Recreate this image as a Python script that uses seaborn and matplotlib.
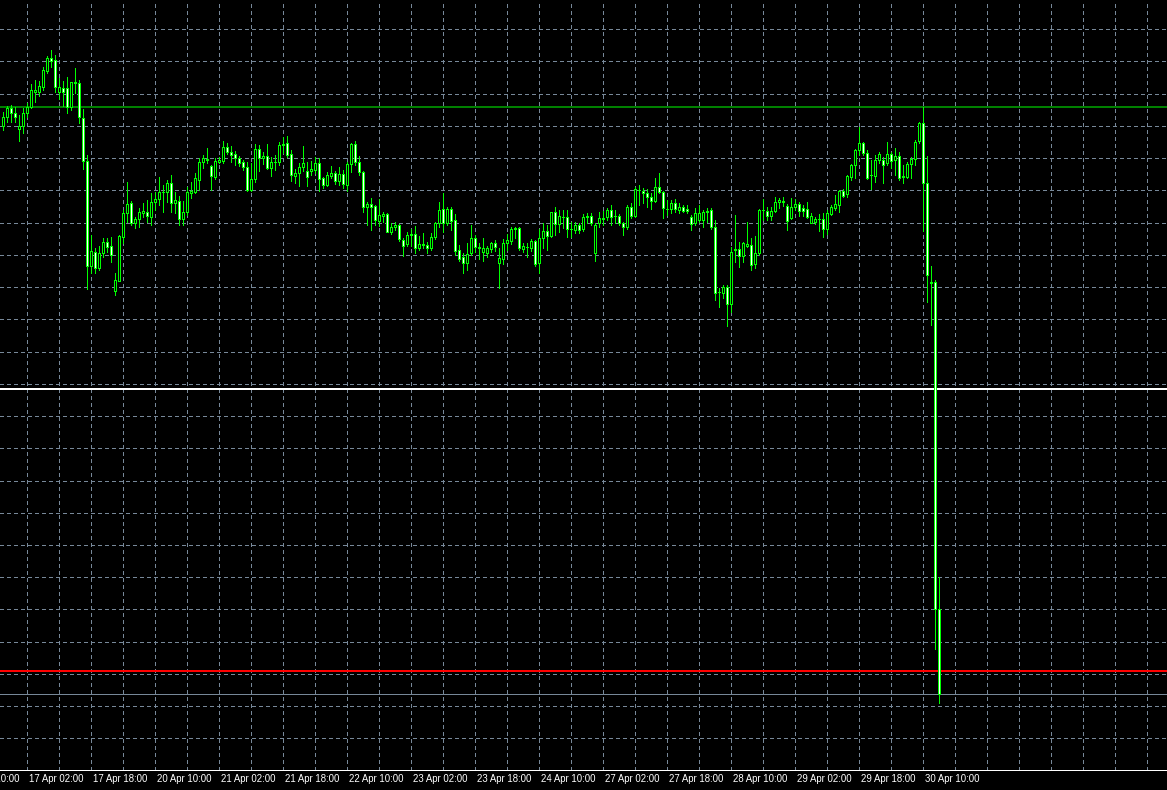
import numpy as np
import pandas as pd
import matplotlib
matplotlib.use("Agg")
import matplotlib.pyplot as plt
from matplotlib.transforms import ScaledTranslation, blended_transform_factory
import seaborn as sns

# ---------------- data (H1 candles) ----------------
open_ = [674.0, 683.3, 691.7, 686.7, 670.7, 674.0, 686.7, 693.3, 708.3, 708.3,
         712.7, 729.3, 741.7, 740.0, 708.3, 711.7, 711.7, 693.3, 717.7, 716.7,
         681.7, 639.3, 534.3, 547.7, 532.3, 546.7, 557.7, 554.0, 509.3, 519.3,
         563.3, 586.7, 596.7, 576.7, 580.7, 587.3, 587.7, 583.3, 597.7, 600.7,
         607.7, 608.3, 617.3, 596.7, 599.3, 580.7, 587.7, 607.3, 608.3, 620.0,
         637.7, 640.7, 634.3, 623.3, 638.3, 639.3, 652.7, 647.7, 645.7, 641.7,
         637.7, 633.3, 610.0, 620.7, 650.7, 641.7, 644.0, 632.3, 637.7, 638.3,
         655.0, 656.7, 646.0, 624.3, 626.7, 632.7, 629.0, 629.3, 630.0, 636.7,
         621.7, 615.0, 624.3, 626.7, 619.3, 626.0, 615.0, 635.7, 656.0, 638.3,
         628.3, 592.7, 595.7, 594.0, 579.3, 584.3, 585.7, 568.3, 572.7, 575.0,
         560.0, 556.0, 565.0, 566.0, 551.7, 554.7, 555.0, 551.7, 562.7, 576.7,
         590.7, 577.3, 590.7, 580.0, 550.0, 543.3, 536.7, 546.7, 561.7, 552.7,
         547.7, 547.3, 550.7, 556.7, 536.7, 540.7, 556.7, 559.3, 570.7, 571.7,
         551.0, 552.7, 552.3, 559.0, 536.7, 562.3, 569.3, 564.0, 587.7, 575.7,
         582.7, 582.7, 570.7, 570.0, 575.0, 570.7, 583.0, 584.0, 546.7, 576.7,
         581.3, 583.3, 590.0, 583.7, 584.0, 577.3, 572.7, 592.7, 584.0, 610.0,
         609.0, 606.7, 602.7, 599.3, 612.7, 607.7, 591.3, 591.0, 596.7, 590.0,
         592.7, 591.0, 582.7, 576.7, 580.0, 580.0, 588.3, 590.0, 572.7, 507.7,
         507.3, 512.7, 495.7, 550.3, 550.7, 544.3, 554.3, 555.0, 536.0, 546.7,
         589.7, 589.0, 584.0, 589.3, 597.7, 599.0, 594.3, 581.7, 593.3, 596.0,
         591.7, 590.7, 577.3, 578.3, 581.0, 580.7, 570.7, 586.0, 592.3, 595.0,
         609.3, 606.0, 623.3, 635.0, 650.0, 656.7, 646.7, 624.7, 624.3, 640.0,
         640.0, 637.3, 645.7, 640.0, 644.3, 623.3, 623.3, 636.0, 640.7, 659.3,
         677.3, 617.5, 518.3, 518.3, 190.7]
high = [688.3, 694.0, 695.0, 693.3, 685.0, 691.7, 696.7, 716.0, 720.0, 719.3,
        732.7, 744.0, 750.0, 745.0, 721.7, 719.3, 723.3, 718.3, 732.0, 720.0,
        691.0, 645.0, 565.0, 551.7, 554.0, 561.7, 561.7, 563.3, 526.7, 565.0,
        590.0, 617.7, 599.0, 583.3, 591.7, 596.7, 600.0, 606.7, 608.3, 623.3,
        615.0, 620.0, 625.0, 608.3, 604.0, 599.0, 613.3, 618.3, 626.7, 641.7,
        645.0, 651.7, 635.0, 641.7, 643.3, 659.0, 657.3, 654.0, 649.3, 644.0,
        640.0, 638.3, 636.7, 656.0, 655.0, 648.3, 656.0, 642.7, 645.0, 658.3,
        663.3, 664.0, 650.0, 630.7, 637.3, 654.0, 638.3, 639.3, 642.7, 641.7,
        623.3, 627.7, 634.0, 629.3, 633.3, 630.0, 638.3, 656.7, 659.3, 644.0,
        629.3, 598.3, 601.7, 595.0, 600.7, 588.3, 586.7, 576.7, 578.3, 575.7,
        561.7, 568.3, 570.7, 574.0, 564.0, 567.3, 558.3, 566.7, 578.3, 598.3,
        606.7, 593.3, 593.3, 586.0, 555.0, 546.7, 556.7, 575.0, 565.0, 557.3,
        561.7, 554.0, 558.3, 560.0, 551.7, 561.0, 566.0, 573.3, 573.3, 572.7,
        556.7, 556.7, 560.7, 560.0, 570.7, 576.7, 575.0, 588.3, 593.3, 590.0,
        590.0, 590.0, 578.3, 578.3, 577.3, 586.0, 587.3, 586.7, 576.7, 588.3,
        589.3, 591.7, 595.0, 590.0, 586.0, 578.3, 595.0, 596.7, 613.3, 615.0,
        611.7, 610.7, 606.7, 621.7, 626.7, 609.3, 600.0, 600.0, 600.7, 596.7,
        595.0, 595.0, 585.0, 591.7, 595.0, 590.0, 591.7, 591.7, 580.0, 511.7,
        515.0, 515.0, 553.3, 585.0, 558.3, 558.3, 578.3, 561.7, 564.0, 591.0,
        600.7, 593.3, 593.3, 602.7, 601.7, 602.7, 595.7, 601.7, 600.7, 598.3,
        595.0, 598.3, 587.3, 583.3, 586.0, 586.7, 590.0, 595.0, 605.0, 610.0,
        610.7, 625.0, 636.0, 650.7, 673.3, 658.3, 650.0, 640.0, 645.0, 648.3,
        643.3, 658.3, 648.3, 651.7, 648.3, 635.0, 638.3, 643.3, 660.0, 678.3,
        693.3, 644.0, 534.0, 520.0, 223.3]
low = [670.0, 678.3, 678.3, 678.3, 659.3, 667.3, 683.3, 691.7, 698.3, 704.0,
       710.0, 726.7, 733.3, 708.3, 700.7, 694.0, 686.7, 690.0, 706.7, 676.7,
       630.7, 510.7, 526.7, 526.7, 530.0, 543.3, 548.3, 538.3, 505.0, 519.3,
       556.7, 578.3, 575.0, 572.3, 573.3, 583.3, 578.3, 575.0, 590.0, 595.0,
       588.3, 598.3, 588.3, 586.7, 575.0, 575.0, 585.0, 601.7, 606.7, 610.0,
       631.7, 636.7, 610.0, 620.7, 636.7, 637.3, 645.7, 638.3, 635.0, 634.3,
       630.0, 609.3, 609.3, 618.3, 629.3, 636.0, 630.7, 624.0, 630.0, 635.0,
       646.7, 642.7, 619.3, 616.7, 614.3, 629.3, 614.3, 625.0, 626.7, 609.3,
       612.3, 614.5, 621.7, 616.0, 615.0, 612.3, 609.3, 628.3, 635.0, 625.0,
       588.3, 575.0, 570.0, 575.0, 574.0, 578.3, 567.7, 565.7, 570.0, 559.3,
       544.3, 554.0, 554.0, 546.7, 550.0, 551.7, 547.3, 550.0, 560.7, 573.3,
       568.3, 575.0, 570.0, 545.0, 539.3, 527.3, 530.0, 545.0, 548.3, 540.7,
       539.3, 543.3, 548.3, 549.3, 511.7, 536.0, 550.0, 556.0, 561.7, 550.0,
       548.3, 543.3, 549.3, 534.0, 527.3, 551.7, 550.0, 562.7, 565.0, 568.3,
       571.7, 562.7, 563.3, 566.7, 567.3, 569.3, 576.7, 575.0, 539.3, 573.3,
       575.0, 580.0, 575.0, 576.7, 575.0, 565.0, 570.7, 581.7, 583.3, 595.0,
       596.7, 593.3, 590.7, 598.3, 606.7, 581.7, 585.0, 586.7, 588.3, 587.3,
       588.3, 586.7, 570.0, 575.0, 578.3, 572.7, 578.3, 570.7, 500.0, 493.3,
       501.7, 474.0, 488.3, 538.3, 532.7, 538.3, 553.3, 530.0, 531.7, 545.0,
       580.0, 580.0, 580.0, 588.3, 591.7, 594.3, 570.0, 580.7, 590.0, 584.0,
       584.0, 581.7, 576.7, 576.0, 569.3, 563.3, 566.0, 585.0, 590.0, 588.3,
       602.7, 602.7, 620.0, 621.7, 645.0, 645.0, 621.0, 611.0, 618.3, 636.7,
       617.3, 635.0, 631.7, 625.0, 620.0, 616.7, 621.7, 621.7, 635.0, 656.7,
       569.3, 498.3, 475.0, 151.3, 96.7]
close = [683.3, 691.7, 686.7, 683.3, 674.0, 686.7, 693.3, 710.0, 710.0, 714.0,
         730.0, 741.7, 739.3, 712.7, 712.7, 708.3, 693.3, 717.7, 716.7, 682.7,
         639.3, 534.3, 549.0, 532.3, 546.7, 557.7, 553.3, 545.0, 520.0, 564.0,
         586.7, 596.0, 576.7, 580.7, 588.3, 588.7, 584.3, 597.7, 600.7, 607.7,
         608.3, 617.3, 596.7, 600.0, 580.7, 588.3, 607.7, 609.3, 621.7, 638.3,
         641.7, 640.0, 624.3, 639.3, 640.0, 652.7, 647.7, 645.3, 641.7, 637.3,
         633.3, 610.0, 620.7, 650.7, 641.7, 644.0, 632.3, 637.7, 638.0, 655.0,
         656.3, 645.0, 625.0, 627.3, 632.7, 636.7, 622.7, 630.7, 636.7, 620.7,
         615.0, 624.7, 626.7, 619.3, 626.0, 615.7, 635.7, 656.0, 638.3, 628.3,
         592.7, 596.0, 593.3, 580.0, 585.0, 585.7, 568.3, 573.3, 574.7, 561.0,
         554.3, 565.0, 565.7, 552.3, 556.0, 555.7, 551.7, 562.7, 576.7, 590.0,
         577.3, 590.7, 579.0, 549.3, 541.0, 536.7, 545.7, 561.7, 552.7, 551.7,
         551.7, 551.7, 556.7, 553.3, 541.7, 556.7, 560.0, 570.7, 572.0, 551.7,
         554.0, 553.0, 559.0, 535.7, 561.7, 569.0, 564.3, 587.7, 575.7, 584.0,
         583.0, 570.7, 571.3, 575.0, 570.0, 582.7, 583.7, 576.7, 575.0, 581.7,
         582.3, 590.0, 583.3, 584.0, 577.3, 572.7, 592.7, 584.0, 610.7, 609.7,
         606.7, 602.7, 599.3, 612.7, 607.7, 591.7, 591.3, 596.7, 590.7, 592.7,
         589.3, 589.0, 576.0, 586.7, 586.7, 587.7, 588.7, 572.7, 507.3, 508.0,
         512.7, 495.7, 548.3, 550.7, 544.3, 556.7, 556.3, 535.0, 546.7, 590.0,
         590.0, 584.0, 589.0, 597.7, 600.0, 598.0, 579.0, 593.3, 596.0, 589.3,
         589.3, 583.3, 584.0, 581.0, 581.0, 570.7, 586.7, 592.7, 595.7, 609.3,
         604.3, 624.0, 635.0, 650.0, 656.7, 646.7, 621.7, 624.7, 640.0, 645.7,
         635.0, 645.7, 639.3, 644.3, 621.7, 623.7, 636.0, 640.7, 658.3, 677.3,
         617.5, 524.7, 516.7, 190.7, 105.7]

time_labels = ["16 Apr 10:00", "17 Apr 02:00", "17 Apr 18:00", "20 Apr 10:00",
               "21 Apr 02:00", "21 Apr 18:00", "22 Apr 10:00", "23 Apr 02:00",
               "23 Apr 18:00", "24 Apr 10:00", "27 Apr 02:00", "27 Apr 18:00",
               "28 Apr 10:00", "29 Apr 02:00", "29 Apr 18:00", "30 Apr 10:00"]
label_bars = [-10, 6, 22, 38, 54, 70, 86, 102, 118, 134, 150, 166, 182, 198, 214, 230]

level_green = 693.3
level_white = 411.0
level_red = 129.3

# ---------------- style ----------------
LIME = "#00FF00"
GRID = "#778899"

sns.set_theme(style="dark", rc={
    "axes.facecolor": "black",
    "figure.facecolor": "black",
    "savefig.facecolor": "black",
    "axes.edgecolor": "white",
    "text.color": "white",
    "xtick.color": "white",
    "ytick.color": "white",
})
plt.rcParams["font.family"] = ["Liberation Sans", "DejaVu Sans"]
plt.rcParams["lines.scale_dashes"] = False

df = pd.DataFrame({"open": open_, "high": high, "low": low, "close": close})
df["bar"] = np.arange(len(df))
df["bottom"] = df[["open", "close"]].min(axis=1)
df["height"] = (df["close"] - df["open"]).abs()
df["fill"] = np.where(df["close"] >= df["open"], "black", "white")

W, H = 1167, 790
fig = plt.figure(figsize=(W / 100, H / 100), dpi=100)
ax = fig.add_axes([0, 20 / H, 1, 770 / H])
ax.set_facecolor("black")

px = 72 / 100  # one pixel in points

# grid
vgrid = np.arange(-2, 292, 8)
hgrid = 738.6 - 32.24 * np.arange(-1, 22)
for gx in vgrid:
    ax.axvline(gx, color=GRID, lw=px, ls=(0, (2.2, 2.2)), zorder=1, antialiased=False)
for gy in hgrid:
    ax.axhline(gy, color=GRID, lw=px, ls=(0, (2.2, 2.2)), zorder=1, antialiased=False)

# level lines
ax.axhline(level_green, color="#008000", lw=2 * px, zorder=2, antialiased=False)
ax.axhline(level_white, color="white", lw=2 * px, zorder=2, antialiased=False)
ax.axhline(level_red, color="#FF0000", lw=2 * px, zorder=2, antialiased=False)
ax.axhline(df["close"].iloc[-1], color=GRID, lw=px, zorder=2, antialiased=False)

# candles: wicks then bodies
ax.vlines(df["bar"], df["low"], df["high"], color=LIME, lw=px, zorder=3, antialiased=False)
ax.bar(df["bar"], df["height"], bottom=df["bottom"], width=0.5, color=df["fill"],
       edgecolor=LIME, linewidth=px, zorder=4, antialiased=False)

for s in ["top", "left", "right"]:
    ax.spines[s].set_visible(False)
ax.spines["bottom"].set_color("white")
ax.spines["bottom"].set_linewidth(px)

ax.set_yticks([])
ax.set_xticks(label_bars)
ax.set_xticklabels([])
ax.tick_params(axis="x", which="major", length=5 * px, width=px, color="white",
               direction="out")
ax.grid(False)

# time labels, left-aligned just right of their tick (first one is cut by the edge)
trans = blended_transform_factory(ax.transData, ax.transAxes) + \
    ScaledTranslation(2 / 100, 0, fig.dpi_scale_trans)
for b, t in zip(label_bars, time_labels):
    ax.text(b, -0.0117, t, transform=trans, ha="left", va="center",
            color="white", fontsize=6.9, clip_on=False)

# limits last (set_xticks would otherwise widen the view)
ax.set_xlim(-0.75, 291.0)
ax.set_ylim(30, 800)

fig.savefig("out.png", dpi=100, facecolor="black")
